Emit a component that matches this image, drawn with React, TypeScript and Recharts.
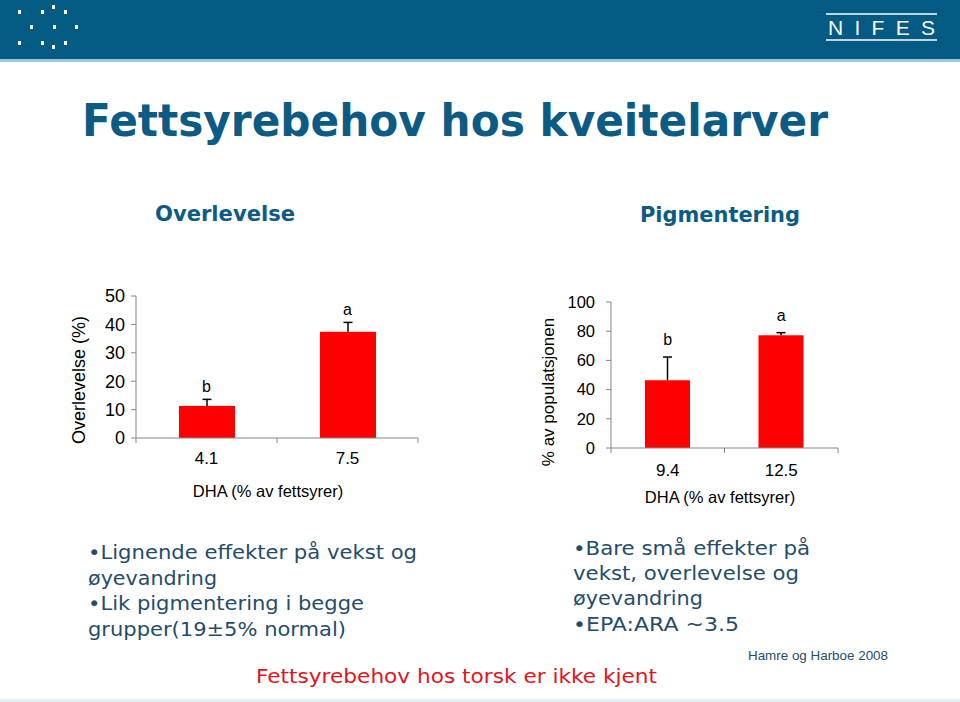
import React from 'react';
import { ComposedChart, Bar, Line, XAxis, YAxis, LabelList } from 'recharts';

// Overlevelse (survival, %)
const survCats = ['4.1', '7.5'];
const survVals = [11.3, 37.4];
const survErr = [2.3, 3.3];
const survSig = ['b', 'a'];
const survTicks = [0, 10, 20, 30, 40, 50];

// Pigmentering (% av populatsjonen)
const pigCats = ['9.4', '12.5'];
const pigVals = [46.4, 77.2];
const pigErr = [15.9, 1.8];
const pigSig = ['b', 'a'];
const pigTicks = [0, 20, 40, 60, 80, 100];

const AXIS = '#868686';
const ARIAL = '"Liberation Sans", Arial, sans-serif';
const VERDANA = '"DejaVu Sans", Verdana, sans-serif';
const BLUE = '#0b5b85';
const TEXT = '#1f4d6b';

const CatTick = (props: any) => {
  const { x, y, payload, index, count, labelDy } = props;
  const half = payload && payload.offset ? payload.offset : 0;
  return (
    <g>
      <line x1={x - half} y1={y} x2={x - half} y2={y + 5} stroke={AXIS} />
      {index === count - 1 && <line x1={x + half} y1={y} x2={x + half} y2={y + 5} stroke={AXIS} />}
      <text x={x} y={y + labelDy} textAnchor="middle" fill="#000" fontSize={17} fontFamily={ARIAL}>
        {payload.value}
      </text>
    </g>
  );
};

// bar plus an upward-only error whisker (the lower half sits behind the bar, as in Excel)
const BarWithErr = (props: any) => {
  const { x, y, width, height, payload, fill } = props;
  const k = payload.v ? height / payload.v : 0;
  const ey = y - payload.e * k;
  const cx = x + width / 2;
  return (
    <g>
      <rect x={x} y={y} width={width} height={height} fill={fill} />
      <line x1={cx} y1={y} x2={cx} y2={ey} stroke="#000" strokeWidth={1.5} />
      <line x1={cx - 4.5} y1={ey} x2={cx + 4.5} y2={ey} stroke="#000" strokeWidth={1.5} />
    </g>
  );
};

interface ChartProps {
  cats: string[];
  vals: number[];
  errs: number[];
  sig: string[];
  ticks: number[];
  width: number;
  height: number;
  margin: { top: number; right: number; bottom: number; left: number };
  barSize: number;
  labelDy: number;
  tickFont: number;
  tickGap: number;
  sigOffset: number;
}

const DhaChart = ({ cats, vals, errs, sig, ticks, width, height, margin, barSize, labelDy, tickFont, tickGap, sigOffset }: ChartProps) => {
  const data = cats.map((c, i) => ({ cat: c, v: vals[i], e: errs[i], top: vals[i] + errs[i], sig: sig[i] }));
  return (
    <ComposedChart width={width} height={height} data={data} margin={margin}>
      <XAxis
        dataKey="cat"
        height={40}
        interval={0}
        tickSize={0}
        tickMargin={0}
        tickLine={false}
        axisLine={{ stroke: AXIS }}
        tick={<CatTick count={cats.length} labelDy={labelDy} />}
      />
      <YAxis
        type="number"
        domain={[0, ticks[ticks.length - 1]]}
        ticks={ticks}
        interval={0}
        width={50}
        tickSize={5}
        tickMargin={tickGap}
        axisLine={{ stroke: AXIS }}
        tickLine={{ stroke: AXIS }}
        tick={{ fill: '#000', fontSize: tickFont, fontFamily: ARIAL }}
      />
      <Bar dataKey="v" fill="#ff0000" barSize={barSize} isAnimationActive={false} shape={<BarWithErr />} />
      <Line dataKey="top" stroke="none" dot={false} activeDot={false} isAnimationActive={false}>
        <LabelList dataKey="sig" position="top" offset={sigOffset} fill="#000" fontSize={16} fontFamily={ARIAL} />
      </Line>
    </ComposedChart>
  );
};

const logoDots = [
  [18, 10], [41, 10], [52, 5], [64, 10],
  [30, 25], [53, 25], [75, 25],
  [18, 41], [41, 41], [52, 45], [64, 41],
];

export default function App() {
  return (
    <div style={{ position: 'absolute', left: 0, top: 0, width: 960, height: 702, background: '#fff', overflow: 'hidden' }}>
      <svg width={960} height={702} style={{ position: 'absolute', left: 0, top: 0 }}>
        <rect x={0} y={0} width={960} height={60} fill="#035b84" />
        <rect x={0} y={59} width={960} height={3} fill="#9cc6da" />
        {logoDots.map(([x, y], i) => (
          <rect key={i} x={x} y={y} width={3} height={4} fill="#fff" />
        ))}
        <line x1={826} y1={14} x2={937} y2={14} stroke="#fff" strokeWidth={1.5} />
        <line x1={826} y1={40} x2={937} y2={40} stroke="#fff" strokeWidth={1.5} />
        <text x={828} y={35} fill="#fff" fontSize={21} fontFamily={ARIAL} textLength={107} lengthAdjust="spacing">
          NIFES
        </text>

        <text x={82} y={136} fill={BLUE} fontSize={44} fontWeight="bold" fontFamily={VERDANA} textLength={746} lengthAdjust="spacingAndGlyphs">
          Fettsyrebehov hos kveitelarver
        </text>
        <text x={155} y={221} fill={BLUE} fontSize={21} fontWeight="bold" fontFamily={VERDANA} textLength={140} lengthAdjust="spacingAndGlyphs">
          Overlevelse
        </text>
        <text x={640} y={222} fill={BLUE} fontSize={21} fontWeight="bold" fontFamily={VERDANA} textLength={160} lengthAdjust="spacingAndGlyphs">
          Pigmentering
        </text>

        <text x={79} y={380} fill="#000" fontSize={18} fontFamily={ARIAL} textAnchor="middle" dominantBaseline="central" transform="rotate(-90 79 380)">
          Overlevelse (%)
        </text>
        <text x={268} y={497} fill="#000" fontSize={16.5} fontFamily={ARIAL} textAnchor="middle">
          DHA (% av fettsyrer)
        </text>
        <text x={548} y={392} fill="#000" fontSize={17} fontFamily={ARIAL} textAnchor="middle" dominantBaseline="central" transform="rotate(-90 548 392)">
          % av populatsjonen
        </text>
        <text x={720} y={503} fill="#000" fontSize={16.5} fontFamily={ARIAL} textAnchor="middle">
          DHA (% av fettsyrer)
        </text>

        <g fill={TEXT} fontSize={20} fontFamily={VERDANA}>
          <text x={88} y={559} textLength={329} lengthAdjust="spacingAndGlyphs">•Lignende effekter på vekst og</text>
          <text x={88} y={585} textLength={129} lengthAdjust="spacingAndGlyphs">øyevandring</text>
          <text x={88} y={610} textLength={276} lengthAdjust="spacingAndGlyphs">•Lik pigmentering i begge</text>
          <text x={88} y={636} textLength={258} lengthAdjust="spacingAndGlyphs">grupper(19±5% normal)</text>
          <text x={573} y={555} textLength={237} lengthAdjust="spacingAndGlyphs">•Bare små effekter på</text>
          <text x={573} y={580} textLength={226} lengthAdjust="spacingAndGlyphs">vekst, overlevelse og</text>
          <text x={573} y={605} textLength={130} lengthAdjust="spacingAndGlyphs">øyevandring</text>
          <text x={573} y={631} textLength={166} lengthAdjust="spacingAndGlyphs">•EPA:ARA ~3.5</text>
        </g>
        <text x={748} y={660} fill={TEXT} fontSize={13.5} fontFamily={ARIAL} textLength={140} lengthAdjust="spacingAndGlyphs">
          Hamre og Harboe 2008
        </text>
        <text x={256} y={683} fill="#e3141c" fontSize={20} fontFamily={VERDANA} textLength={401} lengthAdjust="spacingAndGlyphs">
          Fettsyrebehov hos torsk er ikke kjent
        </text>
        <rect x={0} y={699} width={960} height={3} fill="#e3f1f7" />
      </svg>

      <div style={{ position: 'absolute', left: 56, top: 280 }}>
        <DhaChart
          cats={survCats}
          vals={survVals}
          errs={survErr}
          sig={survSig}
          ticks={survTicks}
          width={380}
          height={230}
          margin={{ top: 16, right: 18, bottom: 32, left: 30 }}
          barSize={56}
          labelDy={26}
          tickFont={18}
          tickGap={6}
          sigOffset={7}
        />
      </div>
      <div style={{ position: 'absolute', left: 531, top: 286 }}>
        <DhaChart
          cats={pigCats}
          vals={pigVals}
          errs={pigErr}
          sig={pigSig}
          ticks={pigTicks}
          width={320}
          height={230}
          margin={{ top: 16, right: 13, bottom: 28, left: 30 }}
          barSize={45}
          labelDy={28}
          tickFont={16.5}
          tickGap={11}
          sigOffset={12}
        />
      </div>
    </div>
  );
}
